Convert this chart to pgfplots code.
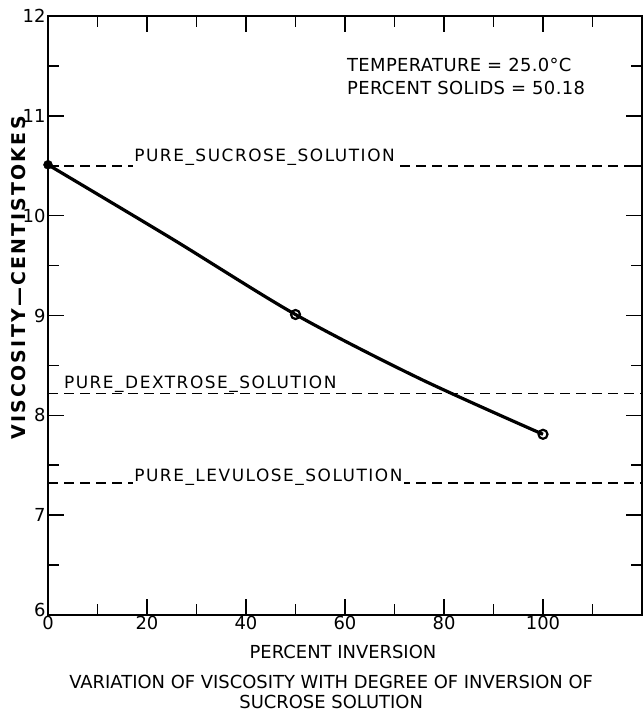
\documentclass[border=0pt]{standalone}
\usepackage{fontspec}
\setmainfont{DejaVu Sans}
\usepackage{pgfplots}
\pgfplotsset{compat=1.18}
\begin{document}
\begin{tikzpicture}
\begin{axis}[
  name=ax,
  scale only axis,
  width=594bp, height=599bp,
  xmin=0, xmax=120, ymin=6, ymax=12,
  xtick={0,20,40,60,80,100},
  minor xtick={10,30,50,70,90,110},
  ytick={7,8,9,10,11,12},
  extra y ticks={6},
  extra y tick style={yticklabel style={yshift=5bp}},
  minor ytick={6.5,7.5,8.5,9.5,10.5,11.5},
  major tick length=16bp, minor tick length=11bp,
  tick style={line width=1.6bp, black},
  axis line style={line width=2.2bp},
  /pgf/number format/assume math mode=true,
  ticklabel style={font=\fontsize{18}{20}\selectfont},
  xticklabel style={yshift=2bp},
  yticklabel style={xshift=1bp},
  xlabel={PERCENT INVERSION},
  ylabel={VISCOSITY—CENTISTOKES},
  xlabel style={font=\fontsize{18}{20}\selectfont, at={(axis description cs:0.4966,-0.0618)}, anchor=center},
  ylabel style={font=\fontsize{19}{20}\selectfont\bfseries\addfontfeature{LetterSpace=12}, at={(axis description cs:-0.0488,0.5626)}, anchor=center},
  clip=false,
]
\addplot[line width=1.6bp, dash pattern=on 10bp off 6bp] coordinates {(0,10.50) (120,10.50)};
\addplot[line width=1.6bp, dash pattern=on 10bp off 6bp] coordinates {(0,8.22) (120,8.22)};
\addplot[line width=1.6bp, dash pattern=on 10bp off 6bp] coordinates {(0,7.32) (120,7.32)};
\addplot[line width=3.2bp, smooth] coordinates {(0,10.51) (25,9.77) (50,9.01) (75,8.37) (100,7.81)};
\addplot[only marks, mark=*, mark size=4.5bp, mark options={fill=black, draw=black}] coordinates {(0,10.51)};
\addplot[only marks, mark=o, mark size=4.5bp, mark options={line width=2.2bp, fill=white}] coordinates {(50,9.01) (100,7.81)};
\node[anchor=west, font=\fontsize{17}{18}\selectfont\addfontfeature{LetterSpace=9}, fill=white, inner sep=1bp] at (axis cs:17.2,10.582) {PURE\_SUCROSE\_SOLUTION};
\node[anchor=west, font=\fontsize{17}{18}\selectfont\addfontfeature{LetterSpace=9}, fill=white, inner sep=1bp] at (axis cs:3.0,8.313) {PURE\_DEXTROSE\_SOLUTION};
\node[anchor=west, font=\fontsize{17}{18}\selectfont\addfontfeature{LetterSpace=9}, fill=white, inner sep=1bp] at (axis cs:17.2,7.381) {PURE\_LEVULOSE\_SOLUTION};
\node[anchor=west, font=\fontsize{18}{20}\selectfont\addfontfeature{LetterSpace=2}, inner sep=0pt] at (axis cs:60.4,11.509) {TEMPERATURE = 25.0°C};
\node[anchor=west, font=\fontsize{18}{20}\selectfont\addfontfeature{LetterSpace=2}, inner sep=0pt] at (axis cs:60.4,11.279) {PERCENT SOLIDS = 50.18};
\node[anchor=center, font=\fontsize{18}{20}\selectfont, inner sep=0pt] at (axis cs:57.2,5.332) {VARIATION OF VISCOSITY WITH DEGREE OF INVERSION OF};
\node[anchor=center, font=\fontsize{18}{20}\selectfont, inner sep=0pt] at (axis cs:57.2,5.131) {SUCROSE SOLUTION};
\end{axis}
\pgfresetboundingbox
\path[use as bounding box] ([xshift=-48bp,yshift=-98bp]ax.south west) rectangle ([xshift=1bp,yshift=16bp]ax.north east);
\end{tikzpicture}
\end{document}
